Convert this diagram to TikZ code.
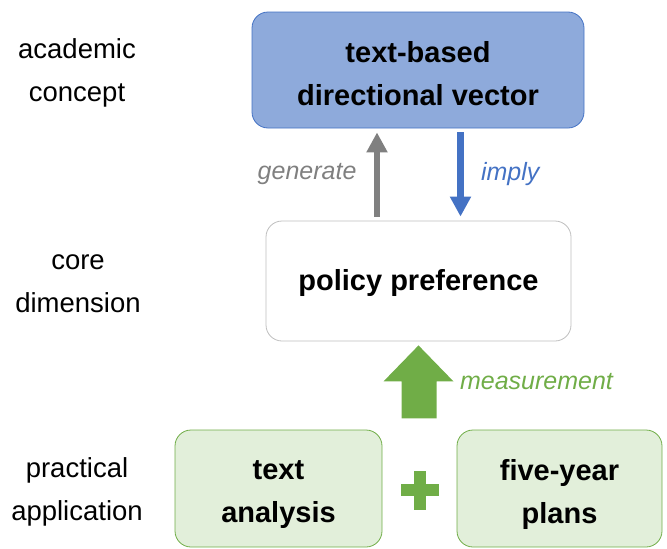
\documentclass[tikz,border=0pt]{standalone}
\usepackage{fontspec}
\setmainfont{Liberation Sans}
\usetikzlibrary{calc,arrows.meta}

\definecolor{conceptfill}{HTML}{8EAADB}
\definecolor{conceptline}{HTML}{4472C4}
\definecolor{appfill}{HTML}{E2EFDA}
\definecolor{appgreen}{HTML}{70AD47}
\definecolor{gengray}{HTML}{808080}
\definecolor{prefline}{HTML}{BFBFBF}

\tikzset{
  level/.style={font=\fontsize{27.5}{43}\selectfont, align=center},
  box/.style={rounded corners=16pt, line width=0.8pt},
  boxtext/.style={align=center, font=\fontsize{29}{43}\selectfont\bfseries},
  link/.style={line width=6.5pt, -{Triangle[width=20pt,length=20pt]},
    shorten <=4pt, shorten >=4pt},
  linklabel/.style={font=\fontsize{25}{30}\selectfont\itshape}
}

\begin{document}
\begin{tikzpicture}[x=1pt,y=-1pt]
	\useasboundingbox (0,0) rectangle (667,549);

	% level names on the left
	\node[level] (lacad) at (77,73) {academic\\concept};
	\node[level] (lcore) at (78,284) {core\\dimension};
	\node[level] (lprac) at (77,491.5) {practical\\application};

	% boxes
	\node[box, draw=conceptline, fill=conceptfill, minimum width=332pt, minimum height=116pt,
		label={[boxtext, yshift=-3.5pt]center:{text-based\\directional vector}}]
		(concept) at (418,70) {};
	\node[box, draw=prefline, fill=white, minimum width=305pt, minimum height=120pt,
		label={[boxtext, yshift=-2pt]center:{policy preference}}]
		(pref) at (418.5,281) {};
	\node[box, draw=appgreen, fill=appfill, minimum width=207pt, minimum height=117pt,
		label={[boxtext, yshift=-6pt]center:{text\\analysis}}]
		(textan) at (278.5,488.5) {};
	\node[box, draw=appgreen, fill=appfill, minimum width=205pt, minimum height=117pt,
		label={[boxtext, yshift=-6pt]center:{five-year\\plans}}]
		(plans) at (559.5,488.5) {};

	% generate / imply
	\draw[link, gengray] ([xshift=-41.5pt]pref.north) -- ([xshift=-41.5pt]pref.north |- concept.south)
		node[midway, left=14pt, linklabel, text=gengray] {generate};
	\draw[link, conceptline] ([xshift=42pt]pref.north |- concept.south) -- ([xshift=42pt]pref.north)
		node[midway, right=14pt, linklabel, text=conceptline] {imply};

	% measurement block arrow
	\coordinate (tip) at ($(pref.south)+(0,4)$);
	\fill[appgreen] (tip) -- ++(35,36) -- ++(-17,0) -- ++(0,37) -- ++(-35,0)
		-- ++(0,-37) -- ++(-18,0) -- cycle;
	\node[linklabel, text=appgreen, anchor=west] (lmeas) at ($(tip)+(38,36)$) {measurement};

	% plus sign
	\coordinate (plus) at ($(textan.east)!0.5!(plans.west)+(0.5,1.5)$);
	\fill[appgreen] ($(plus)+(-19,-6)$) rectangle ($(plus)+(19,6)$);
	\fill[appgreen] ($(plus)+(-6,-19.5)$) rectangle ($(plus)+(6,19.5)$);
\end{tikzpicture}
\end{document}
